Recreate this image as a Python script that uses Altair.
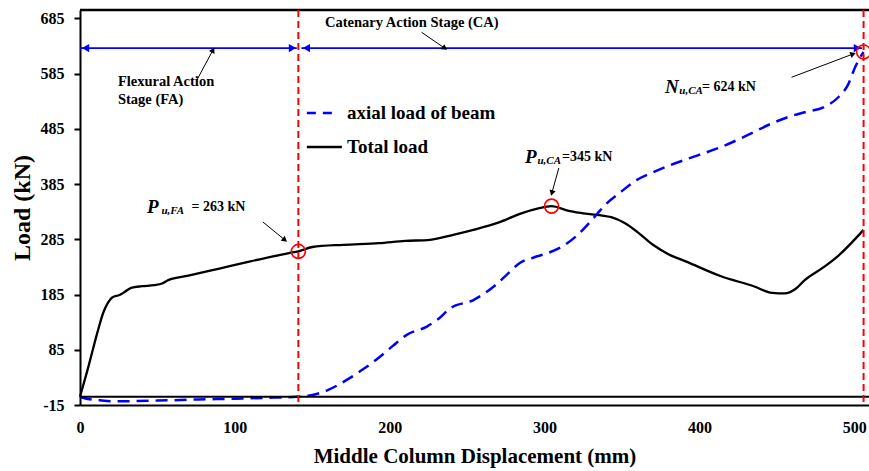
import altair as alt
import pandas as pd

# ---- measured curves: middle column displacement (mm) vs load (kN) ----
total_disp = [0, 5, 11.7, 15, 18, 21, 25.5, 29, 33, 40, 48, 53, 57, 70, 90, 110, 128, 135, 141,
              150, 170, 193, 210, 226, 241, 254, 271, 285, 296, 304.5, 315, 325, 343, 352, 360,
              370, 380, 392, 414, 435, 447, 455, 462, 468, 480, 490, 506]
total_load = [0, 50, 121, 152, 170, 180, 184, 190, 197, 200, 202, 205, 211, 219, 232, 245, 256, 260, 263,
              271, 275, 278, 282, 284, 293, 302, 316, 332, 341, 345, 337, 332, 325, 314, 298,
              275, 258, 244, 218, 200, 188, 187, 195, 211, 234, 256, 302]

axial_disp = [0, 5, 11.7, 20, 33, 50, 76.6, 100, 120, 140, 150, 160, 172, 183, 193.5, 202, 211, 224,
              232, 239, 254, 267, 276, 284, 293, 302, 312, 321, 328, 334, 338, 349, 359.4, 370,
              381, 398, 414, 430, 447, 458, 468, 481, 490, 496, 500.6, 506]
axial_load = [0, -4, -6, -8, -8, -7, -5, -3.5, -2, 0, 3, 12, 30, 50, 72, 92, 112, 127,
              142, 160, 175, 199, 222, 242, 252, 260, 273, 292, 312, 331, 344, 370, 392, 406,
              419, 436, 452, 472, 495, 507, 515, 525, 543, 565, 597, 624]

x_ticks = [0, 100, 200, 300, 400, 500]
y_ticks = [-15, 85, 185, 285, 385, 485, 585, 685]

# stage boundaries (mm) and the key loads (kN)
fa_limit = 141
ca_limit = 506
p_u_fa = 263
p_u_ca = 345
p_u_ca_disp = 304.5
n_u_ca = 624

series_names = ["axial load of beam", "Total load"]
stage_names = ["Flexural  Action", "Stage (FA)", "Catenary  Action Stage (CA)"]

FONT = "Liberation Serif"
X_DOMAIN = [0, 509.5]
Y_DOMAIN = [-15, 700]

x_axis = alt.Axis(values=x_ticks, title="Middle Column Displacement (mm)", grid=False, ticks=False,
                  domainColor="black", domainWidth=2, labelFont=FONT, labelFontWeight="bold",
                  labelFontSize=16, labelColor="black", labelPadding=14, labelFlush=False,
                  titleFont=FONT, titleFontWeight="bold", titleFontSize=21, titleColor="black",
                  titlePadding=10)
y_axis = alt.Axis(values=y_ticks, title="Load (kN)", grid=False, ticks=True, tickSize=6, tickWidth=2,
                  tickColor="black", domainColor="black", domainWidth=2, labelFont=FONT,
                  labelFontWeight="bold", labelFontSize=16, labelColor="black", labelPadding=10,
                  labelFlush=False, labelExpr="'' + datum.value", titleFont=FONT,
                  titleFontWeight="bold", titleFontSize=24, titleColor="black", titlePadding=6)


def X(field="x"):
    return alt.X(f"{field}:Q", scale=alt.Scale(domain=X_DOMAIN, nice=False, zero=False), axis=x_axis)


def Y(field="y"):
    return alt.Y(f"{field}:Q", scale=alt.Scale(domain=Y_DOMAIN, nice=False, zero=False), axis=y_axis)


total_df = pd.DataFrame({"x": total_disp, "y": total_load})
axial_df = pd.DataFrame({"x": axial_disp, "y": axial_load})

total_line = alt.Chart(total_df).mark_line(color="black", strokeWidth=2.3, interpolate="monotone").encode(
    x=X(), y=Y())
axial_line = alt.Chart(axial_df).mark_line(color="#0000FF", strokeWidth=2.5, strokeDash=[12, 7],
                                           interpolate="monotone").encode(x=X(), y=Y())

zero_line = alt.Chart(pd.DataFrame({"y": [0]})).mark_rule(color="black", strokeWidth=2).encode(y=Y())
top_line = alt.Chart(pd.DataFrame({"y": [Y_DOMAIN[1]]})).mark_rule(color="black", strokeWidth=2.6).encode(y=Y())

stage_rules = alt.Chart(pd.DataFrame({"x": [fa_limit, ca_limit]})).mark_rule(
    color="#FF0000", strokeWidth=2, strokeDash=[7, 4]).encode(x=X())

# stage extent arrows (blue, double headed)
stage_y = 631
stage_df = pd.DataFrame({"x": [0, 143], "x2": [140, ca_limit - 1], "y": [stage_y, stage_y]})
stage_lines = alt.Chart(stage_df).mark_rule(color="#0000FF", strokeWidth=1.6).encode(
    x=X(), x2="x2:Q", y=Y())
stage_heads_df = pd.DataFrame({"x": [3.6, 137.2, 146.2, 502],
                               "y": [stage_y] * 4,
                               "shape": ["triangle-left", "triangle-right", "triangle-left", "triangle-right"]})
stage_heads = alt.Chart(stage_heads_df).mark_point(filled=True, color="#0000FF", size=70, opacity=1).encode(
    x=X(), y=Y(), shape=alt.Shape("shape:N", scale=None))

# pointer arrows (black)
ptr_df = pd.DataFrame({
    "x": [75.5, 220.6, 118.1, 309.2, 459.5],
    "y": [573.3, 659.6, 316.3, 414.0, 578.2],
    "x2": [85.9, 235.6, 132.3, 304.7, 499.2],
    "y2": [627.6, 630.7, 283.7, 368.7, 620.4],
    "ang": [28, 124.5, 129, 196, 69.3],
})
ptr_lines = alt.Chart(ptr_df).mark_rule(color="black", strokeWidth=1).encode(
    x=X(), y=Y(), x2="x2:Q", y2="y2:Q")
ptr_heads = alt.Chart(ptr_df).mark_point(shape="triangle-up", filled=True, color="black", size=40,
                                         opacity=1).encode(
    x=X("x2"), y=Y("y2"), angle=alt.Angle("ang:Q", scale=None))

# key points
key_df = pd.DataFrame({"x": [fa_limit, p_u_ca_disp, ca_limit], "y": [p_u_fa, p_u_ca, n_u_ca]})
key_circles = alt.Chart(key_df).mark_point(shape="circle", filled=False, color="#FF0000", size=196,
                                           strokeWidth=1.6, opacity=1).encode(x=X(), y=Y())

# annotation labels
main_sym = pd.DataFrame({"x": [43.3, 287.3, 377.7], "y": [343.4, 434.0, 560.6], "t": ["P", "P", "N"]})
sub_sym = pd.DataFrame({"x": [52.6, 295.4, 387.0], "y": [336.5, 427.0, 553.5], "t": ["u,FA", "u,CA", "u,CA"]})
val_txt = pd.DataFrame({"x": [72.0, 311.2, 401.6], "y": [343.4, 434.0, 560.6],
                        "t": [f"= {p_u_fa} kN", f"={p_u_ca} kN", f"= {n_u_ca} kN"]})
stage_txt = pd.DataFrame({"x": [24.5, 24.5, 158.2], "y": [569.7, 537.0, 676.5], "t": stage_names})
legend_txt = pd.DataFrame({"x": [172.4, 172.4], "y": [513.6, 452.0], "t": series_names})


def text_layer(df, size, style="normal"):
    return alt.Chart(df).mark_text(align="left", baseline="middle", font=FONT, fontWeight="bold",
                                   fontStyle=style, fontSize=size, color="black").encode(
        x=X(), y=Y(), text="t:N")


labels = (text_layer(main_sym, 19, "italic") + text_layer(sub_sym, 11, "italic") +
          text_layer(val_txt, 14) + text_layer(stage_txt, 14.5) + text_layer(legend_txt, 19))

# legend samples
leg_axial = alt.Chart(pd.DataFrame({"x": [146.5], "x2": [163.3], "y": [513.6]})).mark_rule(
    color="#0000FF", strokeWidth=2.5, strokeDash=[9, 7]).encode(x=X(), x2="x2:Q", y=Y())
leg_total = alt.Chart(pd.DataFrame({"x": [146.5], "x2": [169.1], "y": [452.0]})).mark_rule(
    color="black", strokeWidth=2.5).encode(x=X(), x2="x2:Q", y=Y())

chart = alt.layer(
    total_line, axial_line, zero_line, top_line, stage_lines, stage_heads, ptr_lines, ptr_heads,
    stage_rules, key_circles, leg_axial, leg_total, labels
).properties(
    width=789, height=395,
    autosize=alt.AutoSizeParams(type="none"),
    padding={"left": 80, "top": 10, "right": 0, "bottom": 66},
    background="white",
).configure_view(stroke=None)

chart.save("out.html", embed_options={"renderer": "svg", "actions": False})
